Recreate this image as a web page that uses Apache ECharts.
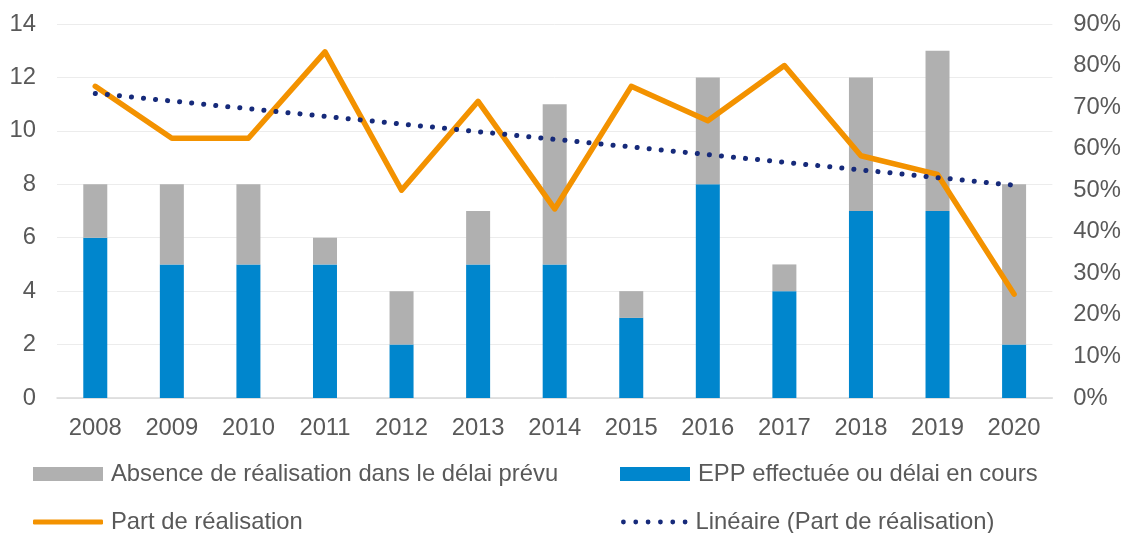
<!DOCTYPE html>
<html>
<head>
<meta charset="utf-8">
<script src="https://cdn.jsdelivr.net/npm/echarts@6/dist/echarts.min.js"></script>
<style>
  html, body { margin: 0; padding: 0; background: #fff; }
</style>
</head>
<body>
<div id="main" style="width:1124px;height:533px;"></div>
<script>
// données
var annees = ['2008', '2009', '2010', '2011', '2012', '2013', '2014', '2015', '2016', '2017', '2018', '2019', '2020'];
var eppEffectuee = [6, 5, 5, 5, 2, 5, 5, 3, 8, 4, 7, 7, 2];
var absenceRealisation = [2, 3, 3, 1, 2, 2, 6, 1, 4, 1, 5, 6, 6];
var partRealisation = [75, 62.5, 62.5, 83.3, 50, 71.4, 45.5, 75, 66.7, 80, 58.3, 53.8, 25];
// droite de tendance : valeurs en 2008 et en 2020
var tendance = [73.3, 51.2];

var police = 'Liberation Sans, Arial, sans-serif';
var gris = '#595959';
var taille = 23.8;

// six points pour la légende de la tendance
var pointille = 'path://';
for (var i = 0; i < 6; i++) {
    var cx = 2.5 + i * 12.8;
    pointille += 'M' + (cx - 2.5) + ' 2.5a2.5 2.5 0 1 0 5 0a2.5 2.5 0 1 0 -5 0z';
}

var myChart = echarts.init(document.getElementById('main'));

function legende(nom, left, top, icone, h, w) {
    return {
        data: [{ name: nom, icon: icone }],
        left: left,
        top: top,
        itemWidth: w || 70,
        itemHeight: h,
        padding: 0,
        selectedMode: false,
        textStyle: { color: gris, fontSize: taille, fontFamily: police, padding: [0, 0, 0, 3] }
    };
}

var option = {
    animation: false,
    textStyle: { fontFamily: police },
    grid: { left: 57, right: 69, top: 24, bottom: 135 },
    legend: [
        legende('Absence de réalisation dans le délai prévu', 33, 462, 'rect', 14),
        legende('EPP effectuée ou délai en cours', 620, 462, 'rect', 14),
        legende('Part de réalisation', 33, 510, 'roundRect', 5),
        legende('Linéaire (Part de réalisation)', 621, 510, pointille, 5, 66.5)
    ],
    xAxis: {
        type: 'category',
        data: annees,
        axisTick: { show: false },
        axisLine: { lineStyle: { color: '#d9d9d9', width: 1.5 } },
        axisLabel: { color: gris, fontSize: taille, margin: 18 }
    },
    yAxis: [{
        type: 'value',
        min: 0, max: 14, interval: 2,
        axisLabel: { color: gris, fontSize: taille, margin: 21 },
        splitLine: { lineStyle: { color: '#ececec' } }
    }, {
        type: 'value',
        min: 0, max: 90, interval: 10,
        position: 'right',
        axisLabel: { color: gris, fontSize: taille, margin: 21, formatter: '{value}%' },
        splitLine: { show: false }
    }],
    series: [{
        name: 'EPP effectuée ou délai en cours',
        type: 'bar',
        stack: 'total',
        barWidth: 24,
        itemStyle: { color: '#0086cd' },
        data: eppEffectuee
    }, {
        name: 'Absence de réalisation dans le délai prévu',
        type: 'bar',
        stack: 'total',
        barWidth: 24,
        itemStyle: { color: '#b0b0b0' },
        data: absenceRealisation
    }, {
        name: 'Part de réalisation',
        type: 'line',
        yAxisIndex: 1,
        symbol: 'none',
        itemStyle: { color: '#f39200' },
        lineStyle: { color: '#f39200', width: 5.5, join: 'round', cap: 'round' },
        data: partRealisation
    }, {
        name: 'Linéaire (Part de réalisation)',
        type: 'line',
        yAxisIndex: 1,
        symbol: 'none',
        z: 3,
        itemStyle: { color: '#162a7a' },
        lineStyle: { color: '#162a7a', width: 5, type: [0.1, 12], cap: 'round' },
        data: [[annees[0], tendance[0]], [annees[annees.length - 1], tendance[1]]]
    }]
};
myChart.setOption(option);
</script>
</body>
</html>
